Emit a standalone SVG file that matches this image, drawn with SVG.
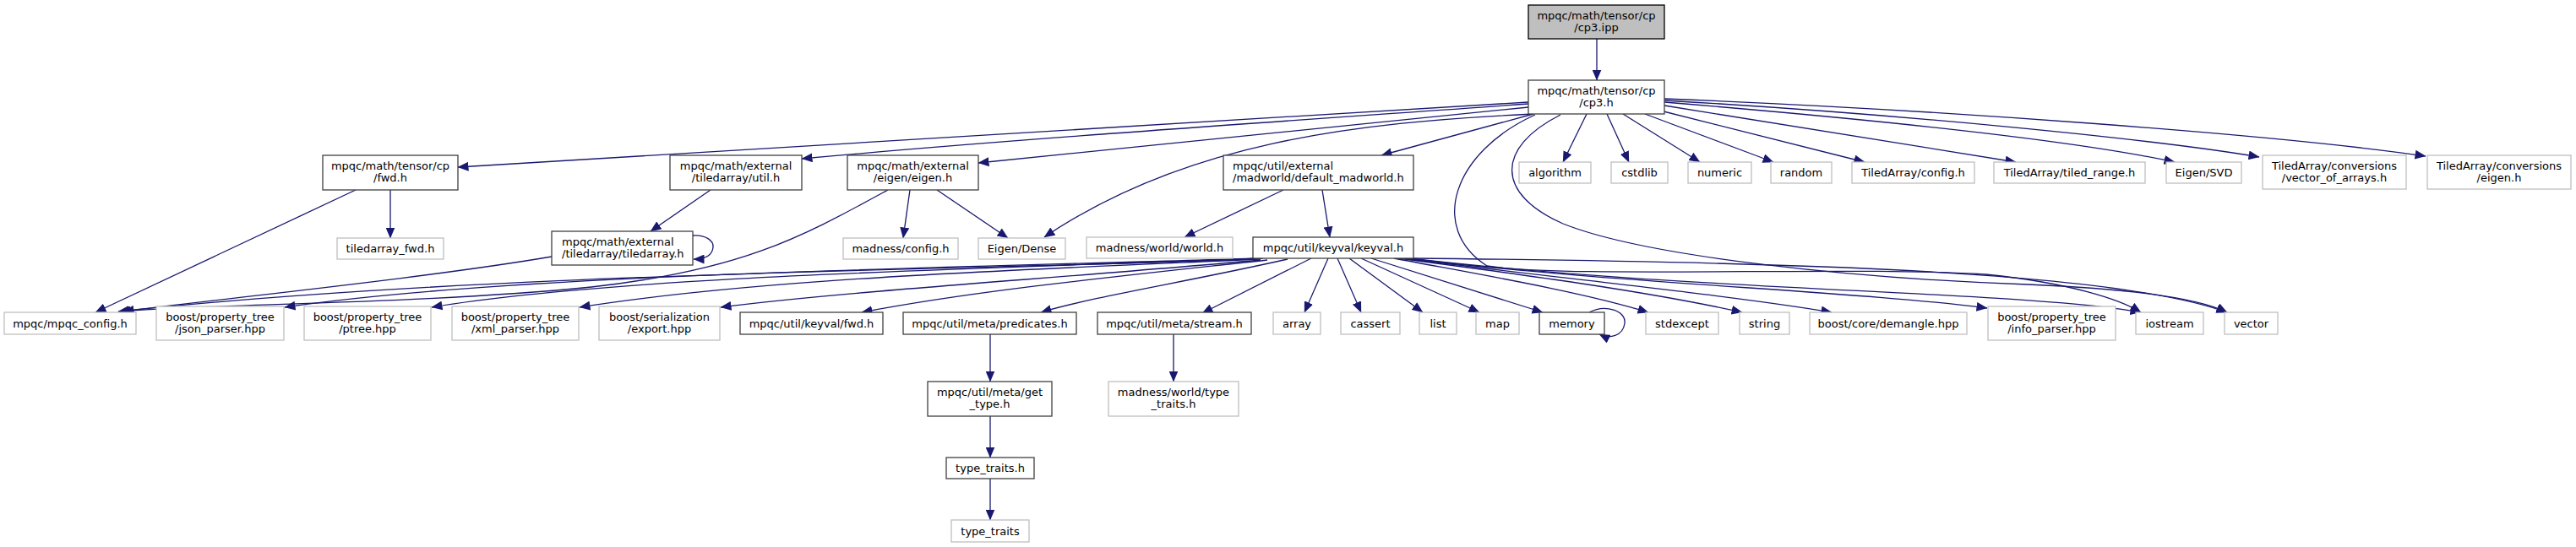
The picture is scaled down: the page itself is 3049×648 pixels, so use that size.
<svg xmlns="http://www.w3.org/2000/svg" width="3049" height="648" viewBox="0 0 3049 648">
<style>
.n rect{fill:#fff;stroke:#404040;stroke-width:1.3}
.u rect{fill:#fff;stroke:#bfbfbf;stroke-width:1.3}
.r rect{fill:#bfbfbf;stroke:#000;stroke-width:1.3}
text{font-family:"DejaVu Sans",sans-serif;font-size:13px;text-anchor:middle;fill:#000}
text.l{text-anchor:start}
#edges path{fill:none;stroke:#191970;stroke-width:1.3;marker-end:url(#a)}
</style>
<defs>
<marker id="a" viewBox="0 0 13 11" refX="12.5" refY="5.5" markerWidth="13" markerHeight="11" markerUnits="userSpaceOnUse" orient="auto"><path d="M0,0L13,5.5L0,11z" fill="#191970"/></marker>
</defs>
<rect width="3049" height="648" fill="#fff"/>
<g id="edges">
<path d="M1890,46L1890,95"/>
<path d="M1809,121L542,198"/>
<path d="M1809,123C1500,145 1200,165 949,188"/>
<path d="M1809,127L1158,193"/>
<path d="M1815,135C1600,145 1400,170 1236,281"/>
<path d="M1815,135L1635,184"/>
<path d="M1878,135L1850,192"/>
<path d="M1902,135L1928,192"/>
<path d="M1921,135L2012,192"/>
<path d="M1947,135L2099,192"/>
<path d="M1969,132L2207,192"/>
<path d="M1970,125L2386,192"/>
<path d="M1970,121C2200,140 2450,165 2574,192"/>
<path d="M1970,119C2250,135 2550,165 2674,186"/>
<path d="M1970,117C2300,130 2700,160 2871,185"/>
<path d="M1817,136C1720,180 1690,270 1760,315C1850,330 2200,315 2350,325C2450,335 2510,355 2534,370"/>
<path d="M1847,136C1770,175 1770,230 1850,265C1950,305 2200,330 2400,337C2520,342 2600,352 2636,370"/>
<path d="M421,225L113,370"/>
<path d="M462,225L462,282"/>
<path d="M841,225L770,274"/>
<path d="M820,279C835,278 845,285 844,293C843,303 835,307 821,307"/>
<path d="M653,304C500,330 250,355 146,369"/>
<path d="M1051,225C950,280 880,320 700,340C500,360 250,360 142,369"/>
<path d="M1077,225L1069,282"/>
<path d="M1109,225L1193,282"/>
<path d="M1519,225L1402,281"/>
<path d="M1565,225L1574,281"/>
<path d="M1495,306C1200,320 600,320 140,369"/>
<path d="M1492,306C1100,318 600,325 337,364"/>
<path d="M1492,306C1200,318 750,325 511,364"/>
<path d="M1492,307C1200,320 900,330 686,364"/>
<path d="M1492,308C1250,330 1000,345 853,364"/>
<path d="M1500,308C1300,330 1150,345 1020,370"/>
<path d="M1524,307C1400,335 1300,350 1232,370"/>
<path d="M1552,306L1423,371"/>
<path d="M1572,306L1544,370"/>
<path d="M1583,306L1611,370"/>
<path d="M1597,306L1684,370"/>
<path d="M1611,306L1751,370"/>
<path d="M1623,306L1826,370"/>
<path d="M1881,370C1900,360 1925,368 1923,383C1921,398 1905,402 1893,396"/>
<path d="M1650,306C1750,325 1870,345 1951,370"/>
<path d="M1655,306C1800,325 1950,345 2062,370"/>
<path d="M1660,306C1850,330 2050,350 2168,370"/>
<path d="M1665,306C1900,335 2200,345 2352,365"/>
<path d="M1668,306C2000,345 2400,345 2534,370"/>
<path d="M1670,306C2100,310 2500,320 2636,370"/>
<path d="M1172,396L1172,452"/>
<path d="M1172,493L1172,542"/>
<path d="M1172,567L1172,616"/>
<path d="M1389,396L1389,452"/>
</g>
<g id="cp3_ipp" class="r"><rect x="1809" y="6" width="161" height="40"/><text x="1889.5" y="22.5">mpqc/math/tensor/cp</text><text x="1889.5" y="36.5">/cp3.ipp</text></g>
<g id="cp3_h" class="n"><rect x="1809" y="95" width="161" height="40"/><text x="1889.5" y="111.5">mpqc/math/tensor/cp</text><text x="1889.5" y="125.5">/cp3.h</text></g>
<g id="cp_fwd_h" class="n"><rect x="382" y="184" width="160" height="41"/><text x="462" y="201">mpqc/math/tensor/cp</text><text x="462" y="215">/fwd.h</text></g>
<g id="ta_util_h" class="n"><rect x="793" y="184" width="156" height="41"/><text x="871" y="201">mpqc/math/external</text><text x="871" y="215">/tiledarray/util.h</text></g>
<g id="eigen_h" class="n"><rect x="1003" y="184" width="155" height="41"/><text x="1080.5" y="201">mpqc/math/external</text><text x="1080.5" y="215">/eigen/eigen.h</text></g>
<g id="default_madworld_h" class="n"><rect x="1448" y="184" width="225" height="41"/><text class="l" x="1459" y="201">mpqc/util/external</text><text class="l" x="1459" y="215">/madworld/default_madworld.h</text></g>
<g id="algorithm" class="u"><rect x="1798" y="192" width="85" height="25"/><text x="1840.5" y="209">algorithm</text></g>
<g id="cstdlib" class="u"><rect x="1907" y="192" width="67" height="25"/><text x="1940.5" y="209">cstdlib</text></g>
<g id="numeric" class="u"><rect x="1998" y="192" width="75" height="25"/><text x="2035.5" y="209">numeric</text></g>
<g id="random" class="u"><rect x="2096" y="192" width="72" height="25"/><text x="2132" y="209">random</text></g>
<g id="ta_config_h" class="u"><rect x="2192" y="192" width="145" height="25"/><text x="2264.5" y="209">TiledArray/config.h</text></g>
<g id="ta_tiled_range_h" class="u"><rect x="2360" y="192" width="179" height="25"/><text x="2449.5" y="209">TiledArray/tiled_range.h</text></g>
<g id="eigen_svd" class="u"><rect x="2564" y="192" width="89" height="25"/><text x="2608.5" y="209">Eigen/SVD</text></g>
<g id="ta_voa_h" class="u"><rect x="2678" y="184" width="170" height="40"/><text x="2763" y="200.5">TiledArray/conversions</text><text x="2763" y="214.5">/vector_of_arrays.h</text></g>
<g id="ta_conv_eigen_h" class="u"><rect x="2873" y="184" width="170" height="40"/><text x="2958" y="200.5">TiledArray/conversions</text><text x="2958" y="214.5">/eigen.h</text></g>
<g id="tiledarray_fwd_h" class="u"><rect x="399" y="282" width="126" height="25"/><text x="462" y="299">tiledarray_fwd.h</text></g>
<g id="ta_tiledarray_h" class="n"><rect x="653" y="274" width="167" height="40"/><text class="l" x="665" y="290.5">mpqc/math/external</text><text class="l" x="665" y="304.5">/tiledarray/tiledarray.h</text></g>
<g id="madness_config_h" class="u"><rect x="998" y="282" width="136" height="25"/><text x="1066" y="299">madness/config.h</text></g>
<g id="eigen_dense" class="u"><rect x="1158" y="282" width="103" height="25"/><text x="1209.5" y="299">Eigen/Dense</text></g>
<g id="madness_world_h" class="u"><rect x="1286" y="281" width="173" height="25"/><text x="1372.5" y="298">madness/world/world.h</text></g>
<g id="keyval_h" class="n"><rect x="1483" y="281" width="190" height="25"/><text x="1578" y="298">mpqc/util/keyval/keyval.h</text></g>
<g id="mpqc_config_h" class="u"><rect x="5" y="370" width="156" height="26"/><text x="83" y="387.5">mpqc/mpqc_config.h</text></g>
<g id="json_parser_hpp" class="u"><rect x="185" y="363" width="151" height="40"/><text x="260.5" y="379.5">boost/property_tree</text><text x="260.5" y="393.5">/json_parser.hpp</text></g>
<g id="ptree_hpp" class="u"><rect x="360" y="363" width="150" height="40"/><text x="435" y="379.5">boost/property_tree</text><text x="435" y="393.5">/ptree.hpp</text></g>
<g id="xml_parser_hpp" class="u"><rect x="535" y="363" width="150" height="40"/><text x="610" y="379.5">boost/property_tree</text><text x="610" y="393.5">/xml_parser.hpp</text></g>
<g id="export_hpp" class="u"><rect x="709" y="363" width="143" height="40"/><text x="780.5" y="379.5">boost/serialization</text><text x="780.5" y="393.5">/export.hpp</text></g>
<g id="keyval_fwd_h" class="n"><rect x="876" y="370" width="169" height="26"/><text x="960.5" y="387.5">mpqc/util/keyval/fwd.h</text></g>
<g id="predicates_h" class="n"><rect x="1069" y="370" width="205" height="26"/><text x="1171.5" y="387.5">mpqc/util/meta/predicates.h</text></g>
<g id="stream_h" class="n"><rect x="1299" y="370" width="182" height="26"/><text x="1390" y="387.5">mpqc/util/meta/stream.h</text></g>
<g id="array" class="u"><rect x="1507" y="370" width="56" height="26"/><text x="1535" y="387.5">array</text></g>
<g id="cassert" class="u"><rect x="1587" y="370" width="70" height="26"/><text x="1622" y="387.5">cassert</text></g>
<g id="list" class="u"><rect x="1680" y="370" width="44" height="26"/><text x="1702" y="387.5">list</text></g>
<g id="map" class="u"><rect x="1747" y="370" width="51" height="26"/><text x="1772.5" y="387.5">map</text></g>
<g id="memory" class="n"><rect x="1822" y="370" width="77" height="26"/><text x="1860.5" y="387.5">memory</text></g>
<g id="stdexcept" class="u"><rect x="1948" y="370" width="86" height="26"/><text x="1991" y="387.5">stdexcept</text></g>
<g id="string" class="u"><rect x="2059" y="370" width="59" height="26"/><text x="2088.5" y="387.5">string</text></g>
<g id="demangle_hpp" class="u"><rect x="2142" y="370" width="186" height="26"/><text x="2235" y="387.5">boost/core/demangle.hpp</text></g>
<g id="info_parser_hpp" class="u"><rect x="2353" y="363" width="151" height="40"/><text x="2428.5" y="379.5">boost/property_tree</text><text x="2428.5" y="393.5">/info_parser.hpp</text></g>
<g id="iostream" class="u"><rect x="2528" y="370" width="80" height="26"/><text x="2568" y="387.5">iostream</text></g>
<g id="vector" class="u"><rect x="2633" y="370" width="63" height="26"/><text x="2664.5" y="387.5">vector</text></g>
<g id="get_type_h" class="n"><rect x="1098" y="452" width="147" height="41"/><text x="1171.5" y="469">mpqc/util/meta/get</text><text x="1171.5" y="483">_type.h</text></g>
<g id="madness_type_traits_h" class="u"><rect x="1312" y="452" width="154" height="41"/><text x="1389" y="469">madness/world/type</text><text x="1389" y="483">_traits.h</text></g>
<g id="type_traits_h" class="n"><rect x="1120" y="542" width="104" height="25"/><text x="1172" y="559">type_traits.h</text></g>
<g id="type_traits" class="u"><rect x="1126" y="616" width="92" height="26"/><text x="1172" y="633.5">type_traits</text></g>
</svg>
